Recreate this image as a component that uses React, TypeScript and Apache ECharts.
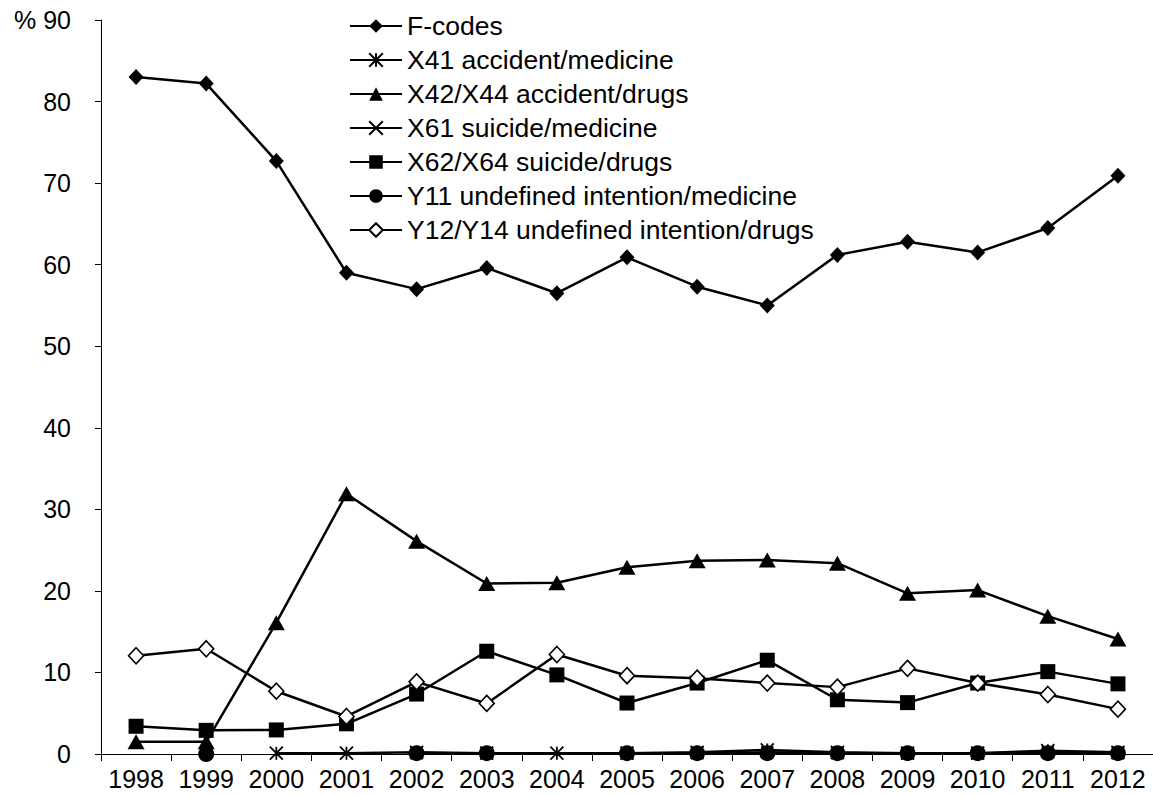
import React, { useEffect, useRef } from "react";
import * as echarts from "echarts";

const years = ["1998", "1999", "2000", "2001", "2002", "2003", "2004", "2005", "2006", "2007", "2008", "2009", "2010", "2011", "2012"];
const fCodes = [83.0, 82.2, 72.7, 59.0, 57.0, 59.6, 56.5, 60.9, 57.3, 55.0, 61.2, 62.8, 61.5, 64.5, 70.9];
const x41 = [null, null, 0.1, 0.1, 0.2, 0.1, 0.1, 0.1, 0.2, 0.5, 0.2, 0.1, 0.1, 0.4, 0.2];
const x42x44 = [1.5, 1.5, 16.1, 31.9, 26.1, 20.9, 21.0, 22.9, 23.7, 23.8, 23.4, 19.7, 20.1, 16.9, 14.1];
const x61 = [null, null, null, null, 0.1, 0.1, null, 0.1, 0.1, 0.2, 0.1, 0.1, 0.1, 0.2, 0.1];
const x62x64 = [3.4, 2.9, 2.95, 3.7, 7.35, 12.6, 9.7, 6.25, 8.7, 11.5, 6.65, 6.3, 8.7, 10.1, 8.6];
const y11 = [null, 0, null, null, 0.1, 0.1, null, 0.1, 0.1, 0.1, 0.1, 0.1, 0.1, 0.1, 0.1];
const y12y14 = [12.05, 12.9, 7.7, 4.6, 8.85, 6.2, 12.2, 9.6, 9.3, 8.7, 8.2, 10.5, 8.7, 7.3, 5.5];

const FONT = "'Liberation Sans', Arial, sans-serif";
const ASTERISK = "path://M0 0L10 10M10 0L0 10M5 0L5 10";
const CROSS = "path://M0 0L10 10M10 0L0 10";

function mk(name: string, data: (number | null)[], symbol: string, size: any, fill: string, bw: number) {
  return {
    name,
    type: "line",
    data,
    symbol,
    symbolSize: size,
    showSymbol: true,
    showAllSymbol: true,
    connectNulls: false,
    lineStyle: { color: "#000", width: 2.5 },
    itemStyle: { color: fill, borderColor: "#000", borderWidth: bw },
    emphasis: { disabled: true },
  };
}

export default function App() {
  const ref = useRef<HTMLDivElement>(null);
  useEffect(() => {
    document.body.style.margin = "0";
    const chart = echarts.init(ref.current!, null, { renderer: "svg" });
    chart.setOption({
      animation: false,
      backgroundColor: "#fff",
      textStyle: { fontFamily: FONT },
      legend: {
        orient: "vertical",
        left: 344,
        top: 7,
        itemWidth: 52,
        itemHeight: 17,
        itemGap: 6,
        textStyle: { fontFamily: FONT, fontSize: 26.5, color: "#000", lineHeight: 28 },
        data: [
          "F-codes",
          "X41 accident/medicine",
          "X42/X44 accident/drugs",
          "X61 suicide/medicine",
          "X62/X64 suicide/drugs",
          "Y11 undefined intention/medicine",
          "Y12/Y14 undefined intention/drugs",
        ],
      },
      grid: { left: 101, top: 20, width: 1056, height: 734 },
      xAxis: {
        type: "category",
        data: years,
        boundaryGap: true,
        axisLine: { lineStyle: { color: "#000", width: 1 } },
        axisTick: { show: true, length: 7, lineStyle: { color: "#000" }, interval: 0 },
        axisLabel: { fontFamily: FONT, fontSize: 25, color: "#000", margin: 12, interval: 0 },
      },
      yAxis: {
        type: "value",
        min: 0,
        max: 90,
        interval: 10,
        splitLine: { show: false },
        axisLine: { show: true, lineStyle: { color: "#000", width: 1 } },
        axisTick: { show: true, length: 6, lineStyle: { color: "#000" } },
        axisLabel: {
          fontFamily: FONT,
          fontSize: 25,
          color: "#000",
          margin: 30,
          formatter: (v: number) => (v === 90 ? "% 90" : String(v)),
        },
      },
      series: [
        mk("F-codes", fCodes, "diamond", [15, 16], "#000", 0),
        mk("X41 accident/medicine", x41, ASTERISK, 13, "#000", 1.8),
        mk("X42/X44 accident/drugs", x42x44, "triangle", [17, 15], "#000", 0),
        mk("X61 suicide/medicine", x61, CROSS, 12, "#000", 1.8),
        mk("X62/X64 suicide/drugs", x62x64, "rect", 15, "#000", 0),
        mk("Y11 undefined intention/medicine", y11, "circle", 16, "#000", 0),
        mk("Y12/Y14 undefined intention/drugs", y12y14, "diamond", [15, 16], "#fff", 1.6),
      ],
    });
    return () => chart.dispose();
  }, []);
  return <div ref={ref} style={{ width: 1153, height: 796 }} />;
}
